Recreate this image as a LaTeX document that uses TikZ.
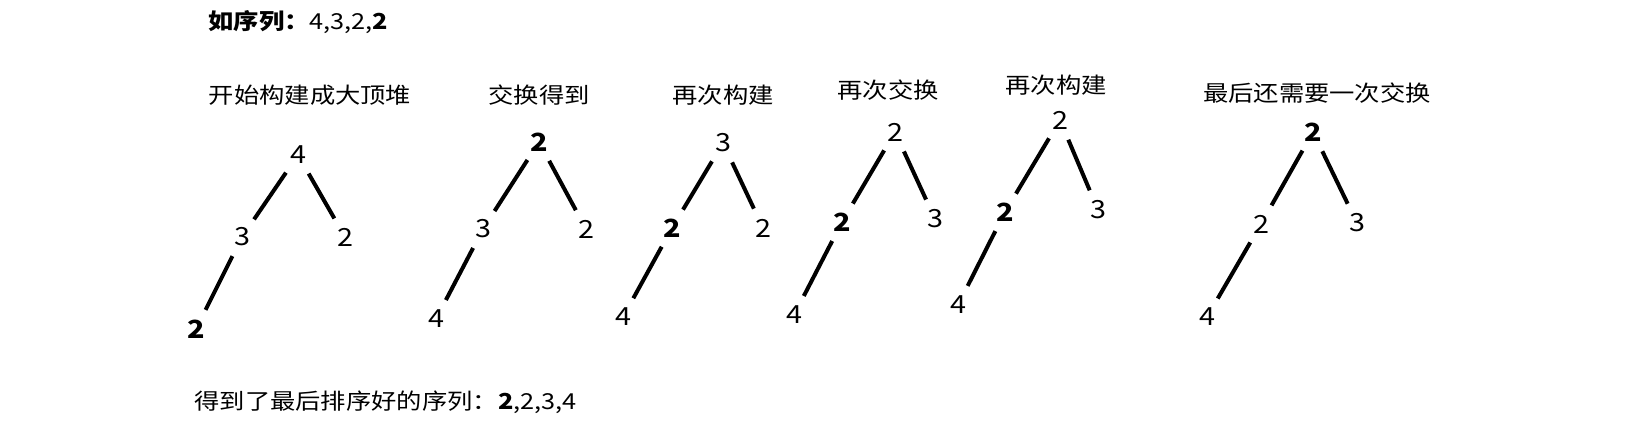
\documentclass[tikz,border=0pt]{standalone}
\usepackage{fontspec}
\newfontfamily\cjk{Noto Sans CJK SC}[FakeStretch=1.15]
\tikzset{
    num/.style={circle, minimum size=21pt, inner sep=0pt, font=\cjk\fontsize{12.5}{14}\selectfont},
    stage/.style={inner sep=0pt},
    link/.style={line width=2pt},
}
\begin{document}
\begin{tikzpicture}[x=0.5pt, y=-0.5pt, font=\cjk\fontsize{11}{13}\selectfont]
    \fill[white] (0,0) rectangle (1634,428);
    \node[stage, anchor=west] (seq) at (208, 22) {\textbf{如序列：}4,3,2,\textbf{2}};
    % tree 1
    \node[stage] (t1) at (310, 95) {开始构建成大顶堆};
    \node[num] (r1) at (298, 155) {4};
    \node[num] (a1) at (242, 237) {3};
    \node[num] (b1) at (345, 237) {2};
    \node[num] (c1) at (196, 329) {\textbf{2}};
    % tree 2
    \node[stage] (t2) at (539, 95) {交换得到};
    \node[num] (r2) at (539, 142) {\textbf{2}};
    \node[num] (a2) at (483, 229) {3};
    \node[num] (b2) at (586, 229) {2};
    \node[num] (c2) at (436, 319) {4};
    % tree 3
    \node[stage] (t3) at (723, 95) {再次构建};
    \node[num] (r3) at (723, 143) {3};
    \node[num] (a3) at (672, 228) {\textbf{2}};
    \node[num] (b3) at (763, 228) {2};
    \node[num] (c3) at (623, 317) {4};
    % tree 4
    \node[stage] (t4) at (888, 90) {再次交换};
    \node[num] (r4) at (895, 132) {2};
    \node[num] (a4) at (842, 222) {\textbf{2}};
    \node[num] (b4) at (935, 219) {3};
    \node[num] (c4) at (794, 315) {4};
    % tree 5
    \node[stage] (t5) at (1056, 85) {再次构建};
    \node[num] (r5) at (1060, 120) {2};
    \node[num] (a5) at (1005, 212) {\textbf{2}};
    \node[num] (b5) at (1098, 210) {3};
    \node[num] (c5) at (958, 305) {4};
    % tree 6
    \node[stage] (t6) at (1317, 93) {最后还需要一次交换};
    \node[num] (r6) at (1313, 132) {\textbf{2}};
    \node[num] (a6) at (1261, 224) {2};
    \node[num] (b6) at (1357, 223) {3};
    \node[num] (c6) at (1207, 317) {4};
    \foreach \i in {1,...,6} {
        \draw[link] (r\i) -- (a\i);
        \draw[link] (r\i) -- (b\i);
        \draw[link] (a\i) -- (c\i);
    }
    \node[stage, anchor=west] (res) at (194, 402) {得到了最后排序好的序列：\textbf{2},2,3,4};
\end{tikzpicture}
\end{document}
